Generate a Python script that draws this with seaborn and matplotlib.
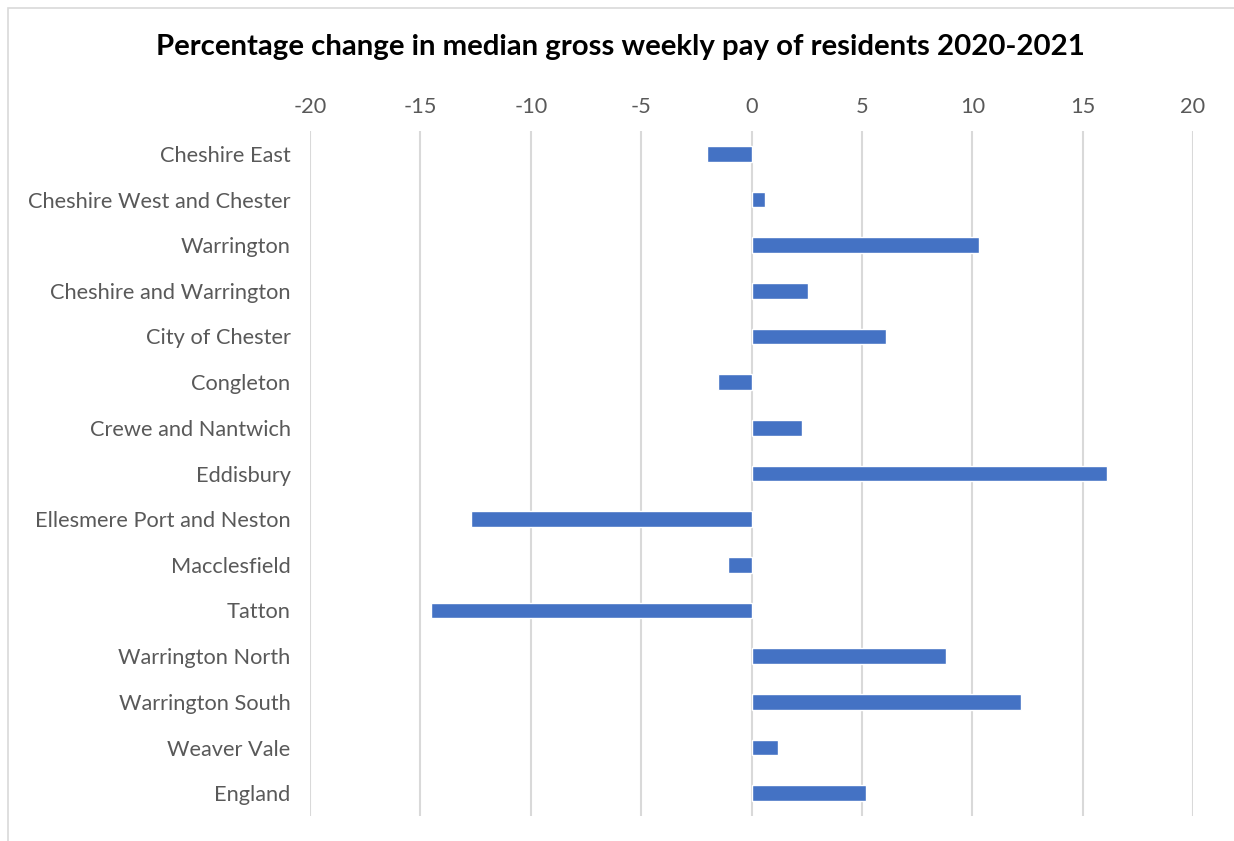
import pandas as pd
import numpy as np
import matplotlib.pyplot as plt
import seaborn as sns
from matplotlib.patches import Rectangle

areas = ['Cheshire East', 'Cheshire West and Chester', 'Warrington',
         'Cheshire and Warrington', 'City of Chester', 'Congleton',
         'Crewe and Nantwich', 'Eddisbury', 'Ellesmere Port and Neston',
         'Macclesfield', 'Tatton', 'Warrington North', 'Warrington South',
         'Weaver Vale', 'England']
pct_change = [-2.0, 0.6, 10.3, 2.55, 6.1, -1.5, 2.3, 16.1, -12.7,
              -1.05, -14.5, 8.8, 12.2, 1.2, 5.2]
x_ticks = [-20, -15, -10, -5, 0, 5, 10, 15, 20]

df = pd.DataFrame({'area': areas, 'change': pct_change})

sns.set_style('white')
plt.rcParams['font.family'] = ['Lato', 'DejaVu Sans']

fig = plt.figure(figsize=(12.34, 8.41), dpi=100)
ax = fig.add_axes([310/1234, 1 - 816/841, 883/1234, 685/841])

# gridlines first so the bars sit on top
for t in x_ticks:
    ax.axvline(t, color='#d9d9d9', lw=1.5, zorder=0)

sns.barplot(data=df, x='change', y='area', orient='h', color='#4472C4',
            width=0.35, saturation=1, ax=ax, zorder=2)

ax.set_xlim(-20, 20)
ax.set_ylim(len(areas) - 0.5, -0.5)
ax.set_xticks(x_ticks)
ax.set_xticklabels([str(t) for t in x_ticks])
ax.xaxis.tick_top()
ax.tick_params(axis='both', length=0, labelsize=15.7, labelcolor='#595959')
ax.tick_params(axis='x', pad=10)
ax.tick_params(axis='y', pad=14)
ax.set_xlabel('')
ax.set_ylabel('')
for s in ax.spines.values():
    s.set_visible(False)

fig.text(0.5025, 1 - 47/841, 'Percentage change in median gross weekly pay of residents 2020-2021',
         ha='center', va='center', fontsize=21.2, fontweight='bold', color='black')

# chart area border
fig.patches.append(Rectangle((8/1234, -0.01), 1.1, 1 - 8/841 + 0.01, transform=fig.transFigure,
                             fill=False, edgecolor='#d9d9d9', lw=1.2))

fig.savefig('out.png', dpi=100)
